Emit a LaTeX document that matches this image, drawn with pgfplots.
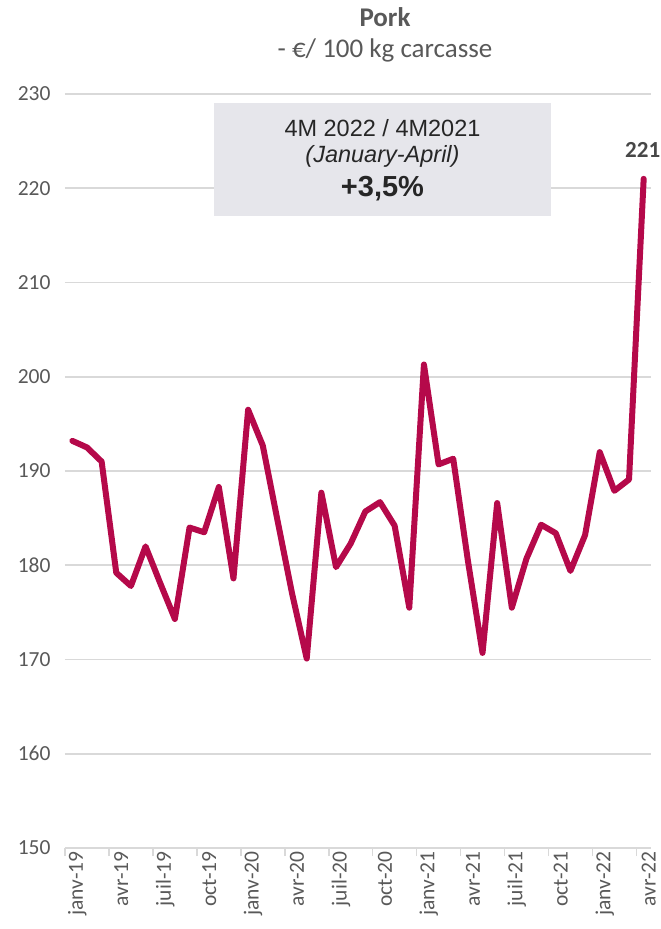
\documentclass[border=0pt]{standalone}
\usepackage{fontspec}
\setmainfont{Carlito}
\newfontfamily\arial{Liberation Sans}
\usepackage{pgfplots}
\pgfplotsset{compat=1.18}
\definecolor{porkred}{HTML}{B5094A}
\definecolor{gridgray}{HTML}{D9D9D9}
\definecolor{labgray}{HTML}{595959}
\definecolor{boxgray}{HTML}{E6E6EB}
\definecolor{boxtext}{HTML}{262626}

\begin{document}
\begin{tikzpicture}[x=1pt,y=1pt]
\useasboundingbox (0,0) rectangle (661,929);
\begin{axis}[
    at={(65pt,81pt)}, anchor=south west,
    scale only axis, width=586pt, height=754pt,
    xmin=-0.5, xmax=39.5, ymin=150, ymax=230,
    axis line style={draw=none},
    ytick={150,160,...,230},
    ymajorgrids, grid style={gridgray, line width=1.6pt},
    xtick={0,3,...,39},
    xticklabels={janv-19,avr-19,juil-19,oct-19,janv-20,avr-20,juil-20,oct-20,janv-21,avr-21,juil-21,oct-21,janv-22,avr-22},
    minor xtick={-0.5,2.5,...,38.5},
    xtick pos=bottom, ytick pos=left,
    tick align=outside,
    major tick length=0pt, minor tick length=8pt,
    minor tick style={gridgray, line width=1.6pt},
    major tick style={draw=none},
    /pgf/number format/assume math mode=true,
    tick label style={font=\fontsize{21.5}{21.5}\selectfont, text=labgray},
    xticklabel style={rotate=90, anchor=east, yshift=-5pt},
    yticklabel style={xshift=-11pt},
    clip=false,
]
\addplot[porkred, line width=6pt, line join=round, line cap=round] coordinates {
  (0,193.2) (1,192.5) (2,191.0) (3,179.2) (4,177.8) (5,182.0) (6,178.1) (7,174.3)
  (8,184.0) (9,183.5) (10,188.3) (11,178.6) (12,196.5) (13,192.7) (14,184.8) (15,177.0)
  (16,170.1) (17,187.7) (18,179.8) (19,182.3) (20,185.7) (21,186.7) (22,184.2) (23,175.5)
  (24,201.3) (25,190.7) (26,191.3) (27,180.5) (28,170.7) (29,186.6) (30,175.5) (31,180.7)
  (32,184.3) (33,183.4) (34,179.4) (35,183.2) (36,192.0) (37,187.9) (38,189.1) (39,221.0)};
\node[anchor=base, font=\bfseries\fontsize{23}{23}\selectfont, text=boxtext!85!white, xshift=-1pt, yshift=21.6pt] at (axis cs:39,221) {221};
\end{axis}
\node[anchor=base, font=\bfseries\fontsize{27}{27}\selectfont, text=labgray] at (385,902) {Pork};
\node[anchor=base, font=\fontsize{27}{27}\selectfont, text=labgray] at (385,871) {- €/ 100 kg carcasse};
\fill[boxgray] (214,713) rectangle (551,826);
\node[anchor=base, font=\arial\fontsize{23.5}{23.5}\selectfont, text=boxtext] at (382.5,792.3) {4M 2022 / 4M2021};
\node[anchor=base, font=\arial\itshape\fontsize{23.5}{23.5}\selectfont, text=boxtext] at (382.5,766) {(January-April)};
\node[anchor=base, font=\arial\bfseries\fontsize{29}{29}\selectfont, text=boxtext] at (382.5,732.3) {+3,5\%};
\end{tikzpicture}
\end{document}
